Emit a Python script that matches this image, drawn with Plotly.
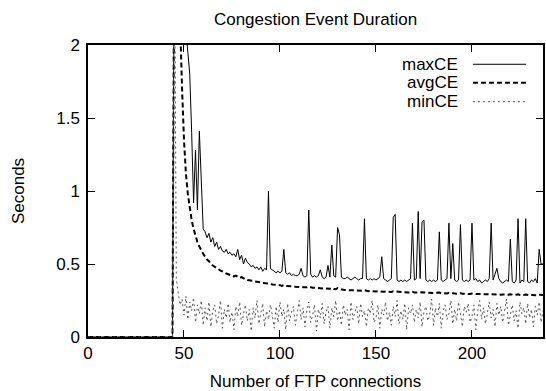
import plotly.graph_objects as go

# ---------------- data ----------------
series_names = ["maxCE", "avgCE", "minCE"]
x_tick_values = [0, 50, 100, 150, 200]
y_tick_values = [0, 0.5, 1, 1.5, 2]

max_ce = [0.0] * 45 + [
    3.0, 3.0, 3.0, 3.0, 3.0, 2.6, 2.1, 1.95, 1.8, 1.4,          # 45-54
    0.92, 1.28, 0.87, 1.41, 1.0, 0.74, 0.72, 0.68, 0.71, 0.65,  # 55-64
    0.68, 0.62, 0.65, 0.60, 0.62, 0.59, 0.58, 0.60, 0.57, 0.58, # 65-74
    0.56, 0.57, 0.55, 0.60, 0.53, 0.56, 0.50, 0.54, 0.51, 0.50, # 75-84
    0.48, 0.49, 0.47, 0.48, 0.46, 0.48, 0.45, 0.47, 0.46, 1.00, # 85-94
    0.47, 0.46, 0.45, 0.44, 0.45, 0.44, 0.45, 0.60, 0.44, 0.43, # 95-104
    0.44, 0.42, 0.43, 0.42, 0.42, 0.43, 0.47, 0.42, 0.41, 0.42, # 105-114
    0.87, 0.43, 0.41, 0.42, 0.41, 0.42, 0.46, 0.41, 0.40, 0.41, # 115-124
    0.49, 0.41, 0.63, 0.42, 0.41, 0.75, 0.70, 0.41, 0.40, 0.40, # 125-134
    0.41, 0.40, 0.39, 0.40, 0.41, 0.40, 0.39, 0.40, 0.40, 0.81, # 135-144
    0.40, 0.39, 0.40, 0.39, 0.40, 0.39, 0.40, 0.41, 0.55, 0.40, # 145-154
    0.39, 0.38, 0.39, 0.40, 0.82, 0.84, 0.39, 0.38, 0.39, 0.38, # 155-164
    0.39, 0.38, 0.39, 0.40, 0.78, 0.39, 0.40, 0.86, 0.40, 0.79, # 165-174
    0.80, 0.39, 0.38, 0.39, 0.38, 0.39, 0.38, 0.39, 0.72, 0.39, # 175-184
    0.38, 0.39, 0.40, 0.78, 0.40, 0.64, 0.39, 0.38, 0.39, 0.77, # 185-194
    0.39, 0.38, 0.39, 0.38, 0.39, 0.78, 0.39, 0.40, 0.38, 0.39, # 195-204
    0.37, 0.38, 0.39, 0.38, 0.40, 0.78, 0.39, 0.43, 0.47, 0.40, # 205-214
    0.38, 0.37, 0.38, 0.39, 0.38, 0.67, 0.38, 0.37, 0.39, 0.81, # 215-224
    0.37, 0.39, 0.38, 0.81, 0.38, 0.37, 0.39, 0.38, 0.40, 0.37, # 225-234
    0.60, 0.50, 0.50,                                           # 235-237
]

avg_ce = [0.0] * 45 + [
    3.0, 3.0, 2.6, 2.05, 1.7, 1.35, 1.12, 0.98, 0.88, 0.80,     # 45-54
    0.74, 0.69, 0.65, 0.62, 0.59, 0.57, 0.55, 0.53, 0.52, 0.50, # 55-64
    0.49, 0.48, 0.47, 0.46, 0.455, 0.45, 0.44, 0.435, 0.43, 0.425,  # 65-74
    0.42, 0.415, 0.42, 0.41, 0.405, 0.41, 0.40, 0.395, 0.39, 0.39,  # 75-84
    0.385, 0.385, 0.38, 0.38, 0.375, 0.375, 0.37, 0.37, 0.365, 0.37,  # 85-94
    0.365, 0.36, 0.36, 0.355, 0.355, 0.355, 0.35, 0.355, 0.35, 0.35,  # 95-104
    0.348, 0.346, 0.347, 0.344, 0.345, 0.342, 0.343, 0.341, 0.340, 0.341,  # 105-114
    0.345, 0.339, 0.338, 0.337, 0.335, 0.336, 0.334, 0.333, 0.334, 0.331,  # 115-124
    0.333, 0.330, 0.336, 0.328, 0.327, 0.335, 0.330, 0.324, 0.323, 0.322,  # 125-134
    0.321, 0.320, 0.321, 0.319, 0.318, 0.319, 0.317, 0.316, 0.317, 0.320,  # 135-144
    0.315, 0.314, 0.315, 0.313, 0.314, 0.312, 0.313, 0.311, 0.314, 0.310,  # 145-154
    0.311, 0.309, 0.310, 0.309, 0.313, 0.312, 0.308, 0.307, 0.308, 0.306,  # 155-164
    0.307, 0.306, 0.305, 0.306, 0.309, 0.305, 0.304, 0.308, 0.304, 0.307,  # 165-174
    0.307, 0.303, 0.302, 0.303, 0.301, 0.302, 0.300, 0.301, 0.304, 0.300,  # 175-184
    0.299, 0.300, 0.298, 0.302, 0.298, 0.300, 0.297, 0.296, 0.297, 0.300,  # 185-194
    0.296, 0.295, 0.296, 0.295, 0.294, 0.298, 0.295, 0.294, 0.295, 0.293,  # 195-204
    0.294, 0.293, 0.292, 0.293, 0.292, 0.296, 0.292, 0.291, 0.293, 0.291,  # 205-214
    0.290, 0.291, 0.290, 0.289, 0.290, 0.293, 0.289, 0.288, 0.289, 0.292,  # 215-224
    0.288, 0.287, 0.288, 0.291, 0.287, 0.286, 0.287, 0.286, 0.287, 0.285,  # 225-234
    0.290, 0.288, 0.287,                                                   # 235-237
]

min_ce = [0.0] * 45 + [
    3.0, 0.40,                                                   # 45-46
    0.30, 0.22, 0.26, 0.15, 0.28, 0.12, 0.24, 0.18, 0.27, 0.10, 0.22, 0.16, 0.25, 0.08,  # 47-60
    0.20, 0.11, 0.24, 0.07, 0.18, 0.22, 0.09, 0.15, 0.25, 0.06,  # 61-70
    0.19, 0.13, 0.23, 0.10, 0.17, 0.05, 0.21, 0.14, 0.24, 0.08,  # 71-80
    0.16, 0.22, 0.11, 0.19, 0.04, 0.20, 0.13, 0.25, 0.09, 0.17,  # 81-90
    0.23, 0.07, 0.18, 0.12, 0.22, 0.15, 0.06, 0.21, 0.10, 0.24,  # 91-100
    0.14, 0.19, 0.05, 0.23, 0.11, 0.17, 0.21, 0.08, 0.16, 0.25,  # 101-110
    0.12, 0.20, 0.07, 0.18, 0.24, 0.10, 0.15, 0.22, 0.04, 0.19,  # 111-120
    0.13, 0.23, 0.09, 0.17, 0.21, 0.06, 0.20, 0.14, 0.25, 0.11,  # 121-130
    0.18, 0.08, 0.22, 0.15, 0.19, 0.05, 0.24, 0.12, 0.17, 0.21,  # 131-140
    0.09, 0.23, 0.14, 0.18, 0.07, 0.20, 0.16, 0.25, 0.10, 0.13,  # 141-150
    0.22, 0.06, 0.19, 0.15, 0.24, 0.11, 0.17, 0.08, 0.21, 0.14,  # 151-160
    0.25, 0.09, 0.18, 0.12, 0.23, 0.05, 0.20, 0.16, 0.22, 0.10,  # 161-170
    0.19, 0.13, 0.24, 0.07, 0.17, 0.21, 0.11, 0.15, 0.26, 0.08,  # 171-180
    0.20, 0.14, 0.23, 0.06, 0.18, 0.22, 0.12, 0.16, 0.25, 0.09,  # 181-190
    0.19, 0.11, 0.24, 0.15, 0.07, 0.21, 0.17, 0.23, 0.10, 0.14,  # 191-200
    0.22, 0.05, 0.18, 0.25, 0.12, 0.20, 0.09, 0.16, 0.24, 0.13,  # 201-210
    0.19, 0.07, 0.23, 0.15, 0.21, 0.10, 0.17, 0.26, 0.08, 0.14,  # 211-220
    0.22, 0.11, 0.18, 0.06, 0.24, 0.16, 0.20, 0.09, 0.23, 0.13,  # 221-230
    0.19, 0.07, 0.21, 0.15, 0.24, 0.10, 0.18,                    # 231-237
]

connections = list(range(len(max_ce)))

# ---------------- figure ----------------
FONT = "Liberation Sans, Arial, Helvetica, sans-serif"
styles = [
    dict(color="black", width=1, dash="solid"),
    dict(color="black", width=2, dash="5px,3px"),
    dict(color="#555555", width=1, dash="2px,3px"),
]
series = [max_ce, avg_ce, min_ce]

fig = go.Figure()
for name, ys, st in zip(series_names, series, styles):
    fig.add_trace(go.Scatter(x=connections, y=ys, mode="lines", name=name,
                             line=st, showlegend=False))

# gnuplot-style key: label on the left, line sample on the right
key_rows_y = [0.934, 0.871, 0.806]
for name, yy, st in zip(series_names, key_rows_y, styles):
    fig.add_annotation(x=0.818, y=yy, xref="paper", yref="paper", text=name,
                       showarrow=False, xanchor="right", yanchor="middle",
                       font=dict(family=FONT, size=17, color="black"))
    fig.add_shape(type="line", xref="paper", yref="paper",
                  x0=0.846, x1=0.963, y0=yy, y1=yy, line=st)

axis_common = dict(showline=True, linecolor="black", linewidth=1.5,
                   mirror="ticks", ticks="inside", ticklen=7, tickwidth=1,
                   tickcolor="black", showgrid=False, zeroline=False,
                   tickfont=dict(family=FONT, size=17, color="black"))

fig.update_xaxes(range=[0, 237], tickvals=x_tick_values,
                 title=dict(text="Number of FTP connections", standoff=15,
                            font=dict(family=FONT, size=17, color="black")),
                 **axis_common)
fig.update_yaxes(range=[0, 2], tickvals=y_tick_values, ticklabelstandoff=3,
                 title=dict(text="Seconds", standoff=27,
                            font=dict(family=FONT, size=17, color="black")),
                 **axis_common)

fig.update_layout(
    width=546, height=391,
    margin=dict(l=88, r=3, t=45, b=54, autoexpand=False),
    plot_bgcolor="white", paper_bgcolor="white",
    font=dict(family=FONT, size=17, color="black"),
    title=dict(text="Congestion Event Duration", x=0.5, xref="paper",
               y=1 - 19 / 391, yref="container", xanchor="center",
               yanchor="middle", font=dict(family=FONT, size=17, color="black")),
)

fig.write_html("out.html")
